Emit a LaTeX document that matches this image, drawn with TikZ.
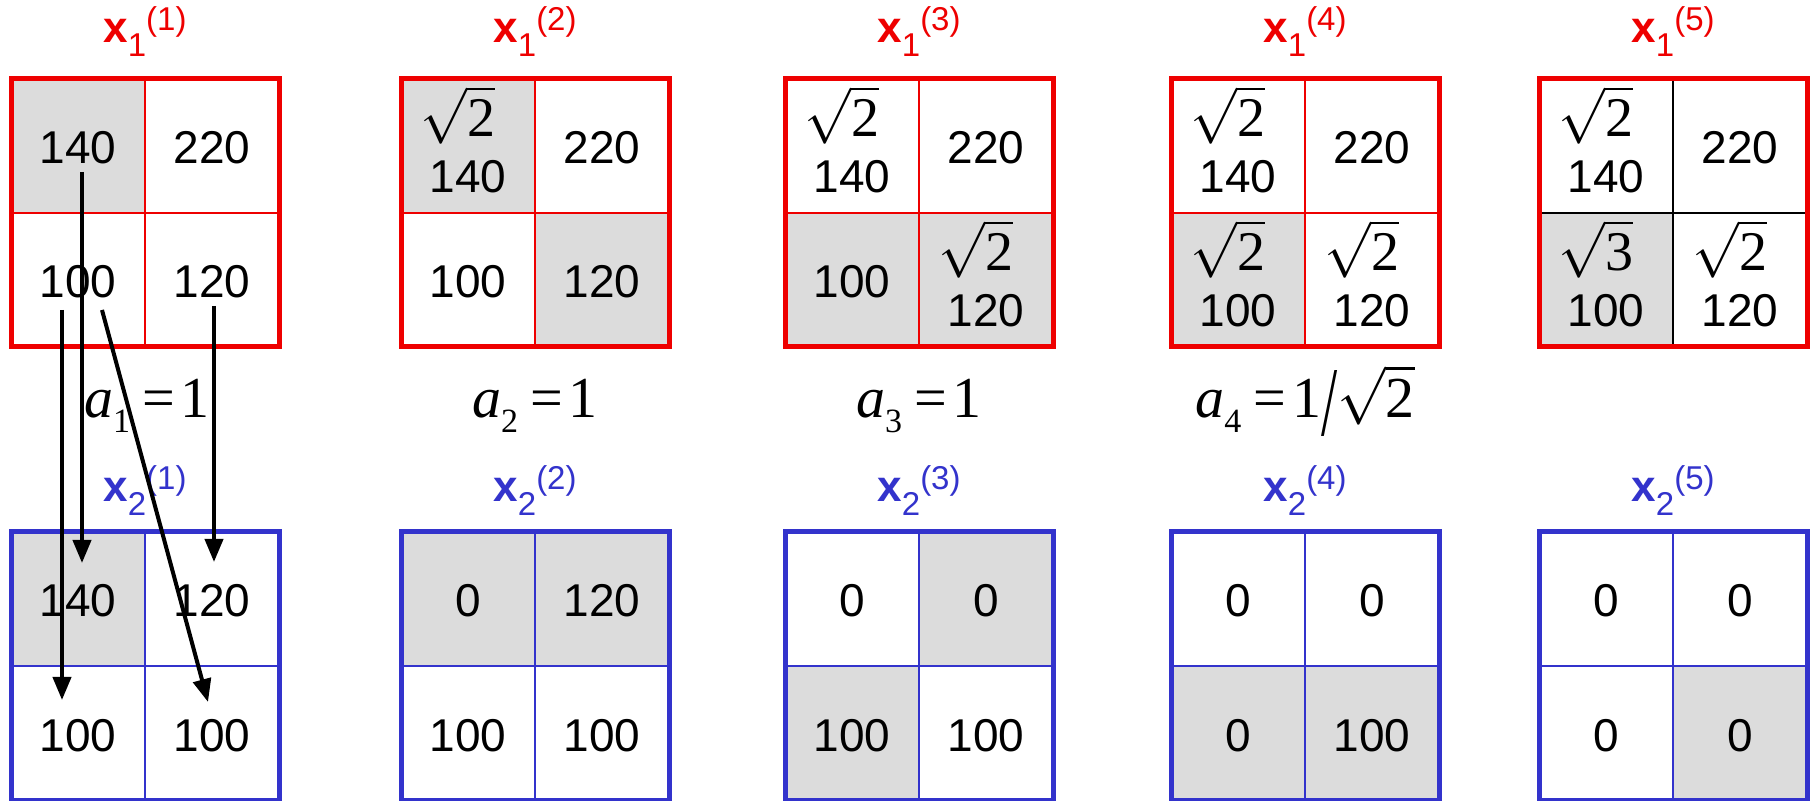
\documentclass[tikz,border=0pt]{standalone}
\usepackage{fontspec}
\setmainfont{Liberation Sans}
\newfontfamily\tnr{Liberation Serif}
\usetikzlibrary{arrows.meta}
\definecolor{gred}{RGB}{238,0,0}
\definecolor{gblue}{RGB}{51,51,204}
\definecolor{cellgray}{RGB}{220,220,220}
\newcommand\rt[2][2.8]{\raisebox{0pt}[\height][0pt]{\scalebox{#1}{\fontsize{10}{12}\selectfont$\sqrt{\hbox{\tnr #2}}$}}}
\newcommand\ttlx[2]{{\fontsize{22}{22}\selectfont\bfseries x}{\fontsize{16.5}{16.5}\selectfont\raisebox{-7pt}{#1}\raisebox{6pt}{(#2)}}}
\newcommand\lbl[2]{{\itshape a}\raisebox{-7.5pt}{\fontsize{17}{17}\selectfont #1}\hspace{6pt}=\hspace{3pt}#2}
\newcommand\gcell[2]{\fill[cellgray] (#1,#2) rectangle ++(134,134);}
\newcommand\glines[4]{%
  \draw[innerl,#3] (#1+134,#2) -- (#1+134,#2+268) (#1,#2+134) -- (#1+268,#2+134);
  \draw[outerl,#4] (#1,#2) rectangle ++(268,268);}
\newcommand\one[4]{\node[num] (#1) at (#2,#3+85) {#4};}
\newcommand\two[5]{\node[rad] (#1r) at (#2-10,#3+58) {\rt{#4}}; \node[num] (#1) at (#2,#3+114) {#5};}
\tikzset{
  num/.style={font=\fontsize{23}{23}\selectfont, anchor=base, inner sep=0pt},
  rad/.style={anchor=base, inner sep=0pt},
  ttl/.style={anchor=base, inner sep=0pt},
  lab/.style={font=\tnr\fontsize{29}{30}\selectfont, anchor=base, inner sep=0pt},
  outerl/.style={line width=2.5pt},
  innerl/.style={line width=1pt},
  arr/.style={line width=2pt, -{Triangle[length=11.5pt,width=9pt]}},
}
\begin{document}
\begin{tikzpicture}[x=0.5pt,y=-0.5pt]
\useasboundingbox (0,0) rectangle (1810,801);
\fill[white] (0,0) rectangle (1810,801);
% gray cells, red grids (T=79)
\gcell{11}{79}
\gcell{401}{79} \gcell{535}{213}
\gcell{785}{213} \gcell{919}{213}
\gcell{1171}{213}
\gcell{1539}{213}
% gray cells, blue grids (T=532)
\gcell{11}{532}
\gcell{401}{532} \gcell{535}{532}
\gcell{919}{532} \gcell{785}{666}
\gcell{1171}{666} \gcell{1305}{666}
\gcell{1673}{666}
% grid lines
\glines{11}{79}{gred}{gred}
\glines{401}{79}{gred}{gred}
\glines{785}{79}{gred}{gred}
\glines{1171}{79}{gred}{gred}
\glines{1539}{79}{black}{gred}
\glines{11}{532}{gblue}{gblue}
\glines{401}{532}{gblue}{gblue}
\glines{785}{532}{gblue}{gblue}
\glines{1171}{532}{gblue}{gblue}
\glines{1539}{532}{gblue}{gblue}
% titles
\node[ttl,text=gred] (t11) at (145,43) {\ttlx{1}{1}};
\node[ttl,text=gred] (t12) at (535,43) {\ttlx{1}{2}};
\node[ttl,text=gred] (t13) at (919,43) {\ttlx{1}{3}};
\node[ttl,text=gred] (t14) at (1305,43) {\ttlx{1}{4}};
\node[ttl,text=gred] (t15) at (1673,43) {\ttlx{1}{5}};
\node[ttl,text=gblue] (t21) at (145,502) {\ttlx{2}{1}};
\node[ttl,text=gblue] (t22) at (535,502) {\ttlx{2}{2}};
\node[ttl,text=gblue] (t23) at (919,502) {\ttlx{2}{3}};
\node[ttl,text=gblue] (t24) at (1305,502) {\ttlx{2}{4}};
\node[ttl,text=gblue] (t25) at (1673,502) {\ttlx{2}{5}};
% labels
\node[lab] (a1) at (147,418) {\lbl{1}{1}};
\node[lab] (a2) at (535,418) {\lbl{2}{1}};
\node[lab] (a3) at (919,418) {\lbl{3}{1}};
\node[lab] (a4) at (1305,418) {\lbl{4}{1\raisebox{-9pt}{\scalebox{1}[1.7]{/}}\rt[2.9]{2}}};
% red grid 1
\one{r1a}{78}{79}{140} \one{r1b}{212}{79}{220}
\one{r1c}{78}{213}{100} \one{r1d}{212}{213}{120}
% red grid 2
\two{r2a}{468}{79}{2}{140} \one{r2b}{602}{79}{220}
\one{r2c}{468}{213}{100} \one{r2d}{602}{213}{120}
% red grid 3
\two{r3a}{852}{79}{2}{140} \one{r3b}{986}{79}{220}
\one{r3c}{852}{213}{100} \two{r3d}{986}{213}{2}{120}
% red grid 4
\two{r4a}{1238}{79}{2}{140} \one{r4b}{1372}{79}{220}
\two{r4c}{1238}{213}{2}{100} \two{r4d}{1372}{213}{2}{120}
% red grid 5
\two{r5a}{1606}{79}{2}{140} \one{r5b}{1740}{79}{220}
\two{r5c}{1606}{213}{3}{100} \two{r5d}{1740}{213}{2}{120}
% blue grids
\one{b1a}{78}{532}{140} \one{b1b}{212}{532}{120}
\one{b1c}{78}{666}{100} \one{b1d}{212}{666}{100}
\one{b2a}{468}{532}{0} \one{b2b}{602}{532}{120}
\one{b2c}{468}{666}{100} \one{b2d}{602}{666}{100}
\one{b3a}{852}{532}{0} \one{b3b}{986}{532}{0}
\one{b3c}{852}{666}{100} \one{b3d}{986}{666}{100}
\one{b4a}{1238}{532}{0} \one{b4b}{1372}{532}{0}
\one{b4c}{1238}{666}{0} \one{b4d}{1372}{666}{100}
\one{b5a}{1606}{532}{0} \one{b5b}{1740}{532}{0}
\one{b5c}{1606}{666}{0} \one{b5d}{1740}{666}{0}
% arrows
\coordinate (s1) at (82,172); \coordinate (e1) at (82,563);
\coordinate (s2) at (62,310); \coordinate (e2) at (62,700);
\coordinate (s3) at (102,310); \coordinate (e3) at (208,702);
\coordinate (s4) at (214,306); \coordinate (e4) at (214,562);
\draw[arr] (s1) -- (e1);
\draw[arr] (s2) -- (e2);
\draw[arr] (s3) -- (e3);
\draw[arr] (s4) -- (e4);
\end{tikzpicture}
\end{document}
